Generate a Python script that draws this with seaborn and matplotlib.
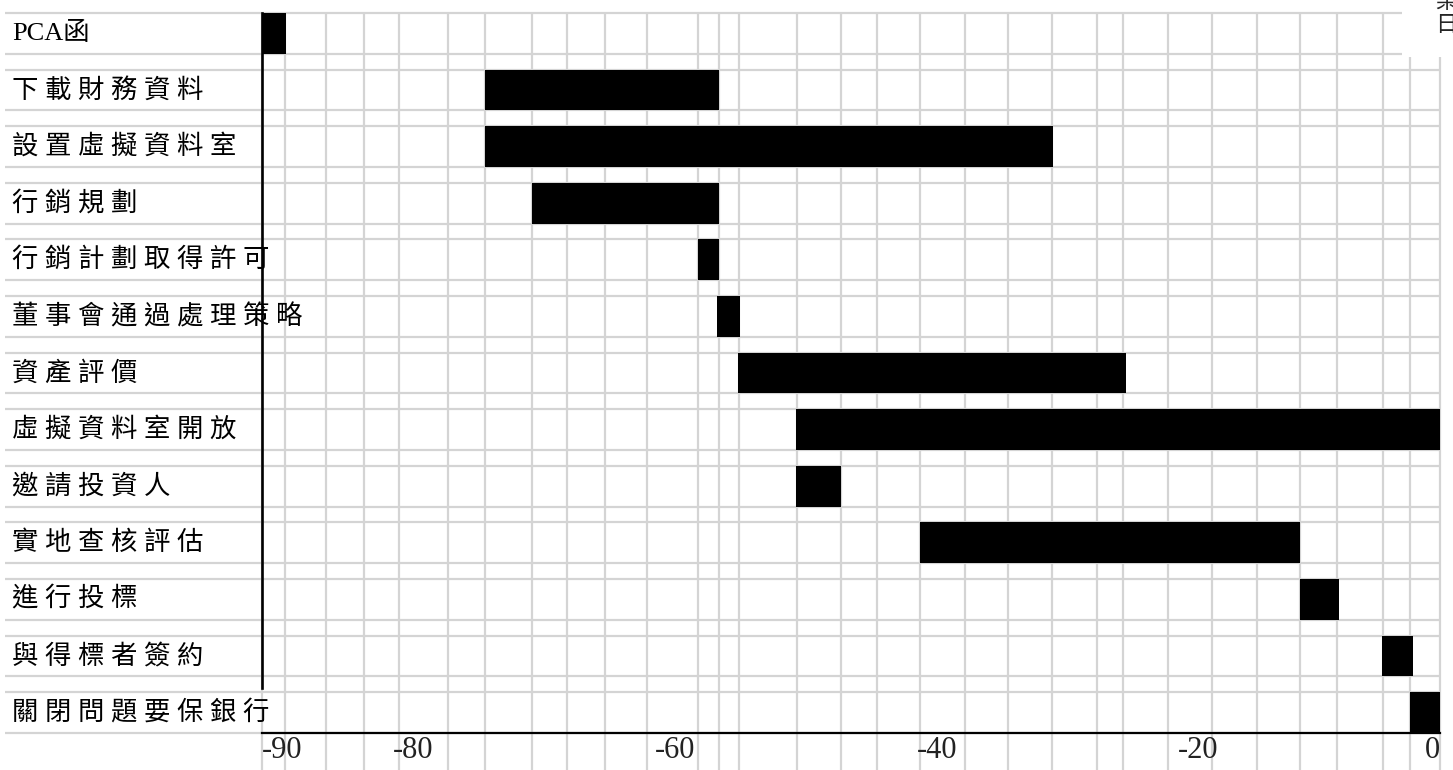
import matplotlib
matplotlib.use("Agg")
import matplotlib.pyplot as plt
import matplotlib.transforms as mtransforms
from matplotlib.patches import Rectangle
import seaborn as sns
import pandas as pd

# ---------------- data ----------------
tasks = ["PCA函", "下載財務資料", "設置虛擬資料室", "行銷規劃", "行銷計劃取得許可",
         "董事會通過處理策略", "資產評價", "虛擬資料室開放", "邀請投資人",
         "實地查核評估", "進行投標", "與得標者簽約", "關閉問題要保銀行"]
start_day = [-90.0, -73.0, -73.0, -69.4, -56.7, -55.2, -53.6, -49.2, -49.2,
             -39.7, -10.7, -4.4, -2.3]
end_day = [-88.2, -55.1, -29.6, -55.1, -55.1, -53.5, -24.0, 0.0, -45.8,
           -10.7, -7.7, -2.1, 0.0]
tick_values = [-90, -80, -60, -40, -20, 0]
tick_labels = ["-90", "-80", "-60", "-40", "-20", "0"]
corner_title = "某\n日"
# spreadsheet column borders (in days)
grid_days = [-90, -88.24, -85.11, -82.21, -79.53, -75.79, -72.96, -69.37, -66.70,
             -63.79, -60.59, -56.69, -55.08, -53.56, -49.13, -45.76, -43.01,
             -39.73, -36.29, -33.0, -29.64, -26.21, -24.22, -20.78, -17.42,
             -13.98, -10.70, -7.87, -4.35, -2.29, 0]

# ---------------- style ----------------
sns.set_style("white")
plt.rcParams["font.family"] = ["Liberation Serif", "Noto Sans CJK TC", "DejaVu Sans"]

W, H = 1453, 770
fig = plt.figure(figsize=(W / 100, H / 100), dpi=100)
ax = fig.add_axes([262 / W, 37 / H, 1178 / W, 720 / H])

df = pd.DataFrame({
    "task": tasks,
    "start": start_day,
    "duration": [e - s for s, e in zip(start_day, end_day)],
})

BAR_W = 0.72
sns.barplot(data=df, x="duration", y="task", orient="h", left=df["start"].to_numpy(),
            color="black", saturation=1, width=BAR_W, errorbar=None, ax=ax,
            zorder=2, linewidth=0)

half = BAR_W / 2
ax.set_xlim(-90, 0)
ax.set_ylim(len(tasks) - 1 + half, -half)
ax.set_xlabel("")
ax.set_ylabel("")
ax.set_yticks([])

# spines
for s in ["top", "right"]:
    ax.spines[s].set_visible(False)
ax.spines["left"].set_color("black")
ax.spines["left"].set_linewidth(1.9)
ax.spines["left"].set_bounds(-half, 11.57)
ax.spines["bottom"].set_color("black")
ax.spines["bottom"].set_linewidth(1.6)
ax.spines["left"].set_zorder(3)
ax.spines["bottom"].set_zorder(3)

# ticks
ax.set_xticks(tick_values)
ax.set_xticklabels(tick_labels, fontsize=22, family="Liberation Serif")
for i, lab in enumerate(ax.get_xticklabels()):
    lab.set_ha("right" if i == len(tick_labels) - 1 else "left")
ax.tick_params(axis="x", length=0, pad=2, colors="#222222")

grid_col = "#d4d4d4"
blend_fy = mtransforms.blended_transform_factory(fig.transFigure, ax.transData)
blend_xf = mtransforms.blended_transform_factory(ax.transData, fig.transFigure)

# horizontal cell borders
for i in range(len(tasks)):
    for yb in (i - half, i + half):
        ax.plot([5 / W, 1440 / W], [yb, yb], transform=blend_fy, color=grid_col,
                lw=1.6, clip_on=False, zorder=0.5, solid_capstyle="butt")
# vertical cell borders
for d in grid_days:
    ax.plot([d, d], [0, 1 - 13 / H], transform=blend_xf, color=grid_col,
            lw=1.6, clip_on=False, zorder=0.5, solid_capstyle="butt")

# category labels
def spaced(t):
    if all(ord(c) > 0x2E80 for c in t):
        return " ".join(t)
    return t

for i, t in enumerate(tasks):
    ax.text(12 / W, i, spaced(t), transform=blend_fy, ha="left", va="center",
            fontsize=19, color="black",
            family=["Liberation Serif", "Noto Sans CJK TC"], zorder=4)

# white corner cell with title text
fig.add_artist(Rectangle((1402 / W, 1 - 57 / H), (W - 1402) / W, 57 / H,
                         transform=fig.transFigure, facecolor="white",
                         edgecolor="none", zorder=5))
fig.text(1435 / W, 1 - 36 / H, corner_title, ha="left", va="bottom", fontsize=16,
         family=["Noto Sans CJK TC"], linespacing=1.0, zorder=6)

fig.savefig("out.png", dpi=100)
